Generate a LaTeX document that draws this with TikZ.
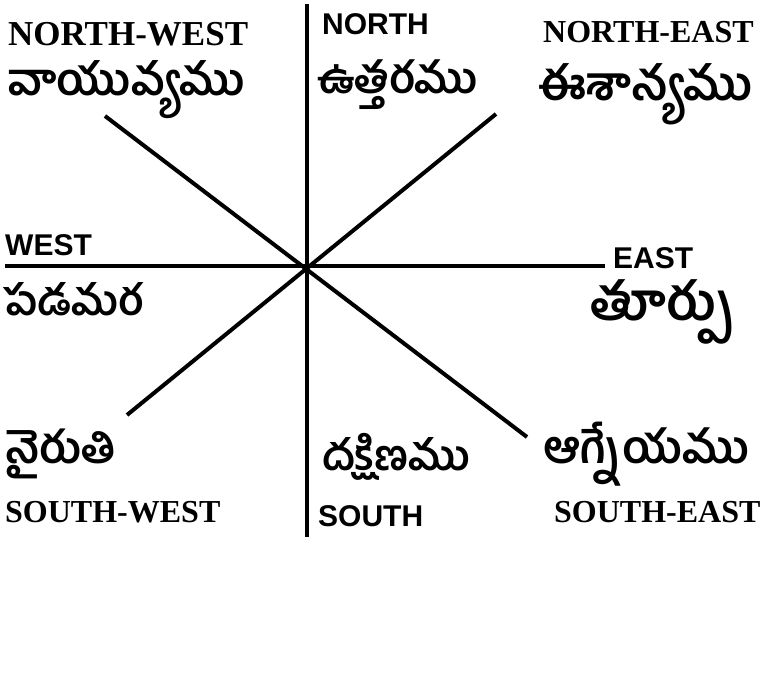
\documentclass[tikz,border=0pt]{standalone}
\usepackage{fontspec}
\newfontfamily\telugufont[Script=Telugu]{Hind Guntur}
\newfontfamily\serifbold{Liberation Serif}
\newfontfamily\sansbold{Liberation Sans}
\tikzset{
  axis/.style={line width=4pt},
  dirname/.style={font=\serifbold\bfseries\fontsize{#1}{#1}\selectfont, anchor=base west, inner sep=0pt},
  dirname/.default=32,
  mainname/.style={font=\sansbold\bfseries\fontsize{30}{34}\selectfont, anchor=base west, inner sep=0pt},
  telname/.style={font=\telugufont\bfseries\fontsize{#1}{#1}\selectfont, anchor=base west, inner sep=0pt},
  telname/.default=46
}
\begin{document}
\begin{tikzpicture}[x=1pt,y=-1pt]
            \useasboundingbox (0,0) rectangle (760,675);
            \coordinate (c) at (307,266);
            \coordinate (n) at (307,4);
            \coordinate (s) at (307,537);
            \coordinate (w) at (5,266);
            \coordinate (e) at (605,266);
            \coordinate (nw) at (105,116);
            \coordinate (se) at (527,437);
            \coordinate (ne) at (496,114);
            \coordinate (sw) at (127,415);
            \draw[axis] (n) -- (s);
            \draw[axis] (w) -- (e);
            \draw[axis] (nw) -- (se);
            \draw[axis] (ne) -- (sw);
            % north side
            \node[dirname=35] (nwen) at (8,45) {NORTH-WEST};
            \node[telname=44.5] (nwte) at (8,95) {వాయువ్యము};
            \node[mainname] (nen) at (322,34) {NORTH};
            \node[telname=43] (nte) at (317,93) {ఉత్తరము};
            \node[dirname] (neen) at (543,42) {NORTH-EAST};
            \node[telname=47] (nete) at (538,100) {ఈశాన్యము};
            % west and east
            \node[mainname] (wen) at (5,255) {WEST};
            \node[telname=42] (wte) at (3,315) {పడమర};
            \node[mainname] (een) at (613,268) {EAST};
            \node[telname=52] (ete) at (590,320) {తూర్పు};
            % south side
            \node[telname=44] (swte) at (5,463) {నైరుతి};
            \node[telname=42] (ste) at (322,470) {దక్షిణము};
            \node[telname=45.5] (sete) at (543,463) {ఆగ్నేయము};
            \node[dirname] (swen) at (5,522) {SOUTH-WEST};
            \node[mainname] (sen) at (318,526) {SOUTH};
            \node[dirname] (seen) at (554,522) {SOUTH-EAST};
        \end{tikzpicture}
\end{document}
